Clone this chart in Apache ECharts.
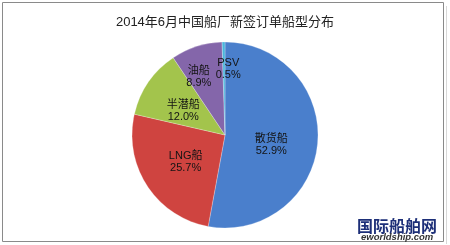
<!DOCTYPE html>
<html><head><meta charset="utf-8">
<script src="https://cdn.jsdelivr.net/npm/echarts@6/dist/echarts.min.js"></script>
<style>html,body{margin:0;padding:0;background:#fff}#c{width:450px;height:245px}</style>
</head><body><div id="c"></div>
<script>
const title = '2014年6月中国船厂新签订单船型分布';
const categories = ['散货船', 'LNG船', '半潜船', '油船', 'PSV'];
const values = [52.9, 25.7, 12.0, 8.9, 0.5];
const colors = ['#4a7fcc', '#cf4440', '#a3c44c', '#8466aa', '#4ab5dc'];
const labelOffsets = [[-3, 5], [2, 0], [-1, 4], [-11, -11], [4, -17]];

const chart = echarts.init(document.getElementById('c'), null, {renderer: 'canvas'});
const font = '"Liberation Sans", Arial, "Noto Sans CJK SC", sans-serif';
chart.setOption({
  animation: false,
  title: {text: title, left: 'center', top: 11,
    textStyle: {fontSize: 13, fontWeight: 'normal', color: '#222', fontFamily: font}},
  graphic: [
    {type: 'rect', shape: {x: 2.5, y: 2.5, width: 441, height: 239},
     style: {fill: 'none', stroke: '#8a8a8a', lineWidth: 1}},
    {type: 'line', shape: {x1: 446.5, y1: 6, x2: 446.5, y2: 244}, style: {stroke: '#d8d8d8', lineWidth: 1}},
    {type: 'text', left: 357, top: 218, z: 10,
     style: {text: '国际船舶网', fontSize: 16, fontWeight: 'bold', fill: '#1d2f78', fontFamily: '"Noto Sans CJK SC", sans-serif'}},
    {type: 'text', left: 361, top: 233, z: 10,
     style: {text: 'eworldship.com', fontSize: 9.5, fontStyle: 'italic', fontWeight: 'bold', fill: '#333', fontFamily: font}}
  ],
  series: [{
    type: 'pie',
    center: [225, 135],
    radius: 93,
    startAngle: 90,
    clockwise: true,
    label: {position: 'inside', fontSize: 11, color: '#141414', fontFamily: font, lineHeight: 12,
      formatter: p => p.name + '\n' + p.value.toFixed(1) + '%'},
    itemStyle: {borderColor: 'rgba(255,255,255,0.5)', borderWidth: 0.5},
    emphasis: {disabled: true},
    data: categories.map((n, i) => ({name: n, value: values[i],
      itemStyle: {color: colors[i]}, label: {offset: labelOffsets[i]}}))
  }]
});
</script></body></html>
